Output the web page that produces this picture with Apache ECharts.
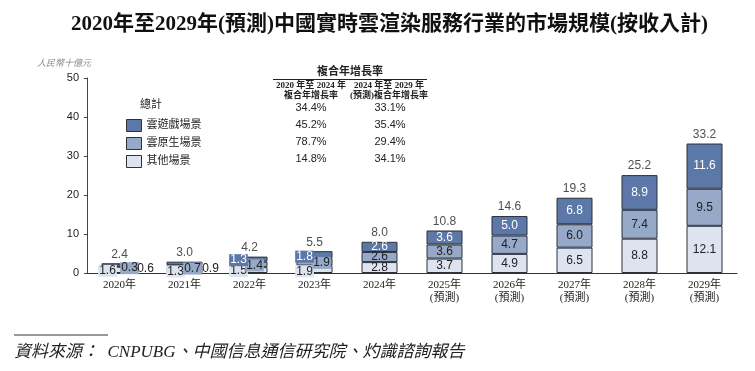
<!DOCTYPE html>
<html><head><meta charset="utf-8">
<script src="https://cdn.jsdelivr.net/npm/echarts@6/dist/echarts.min.js"></script>
<style>html,body{margin:0;padding:0;background:#fff}#c{width:755px;height:371px}</style>
</head><body><div id="c"></div>
<script>
const categories = ['2020年','2021年','2022年','2023年','2024年','2025年\n(預測)','2026年\n(預測)','2027年\n(預測)','2028年\n(預測)','2029年\n(預測)'];
const otherScene = [1.6,1.3,1.5,1.9,2.8,3.7,4.9,6.5,8.8,12.1];
const nativeScene = [0.3,0.7,1.4,1.9,2.6,3.6,4.7,6.0,7.4,9.5];
const gameScene = [0.6,0.9,1.3,1.8,2.6,3.6,5.0,6.8,8.9,11.6];
const totals = [2.4,3.0,4.2,5.5,8.0,10.8,14.6,19.3,25.2,33.2];
const seriesNames = ['雲遊戲場景','雲原生場景','其他場景'];
const cagrHeader = ['2020 年至 2024 年\n複合年增長率','2024 年至 2029 年\n(預測)複合年增長率'];
const cagr2020_2024 = ['34.4%','45.2%','78.7%','14.8%'];
const cagr2024_2029 = ['33.1%','35.4%','29.4%','34.1%'];

const C_GAME = '#5b78a9', C_NATIVE = '#97a9c8', C_OTHER = '#dee4ef', C_BORDER = '#2c313b';
const NUM_FONT = '"Liberation Sans", Arial, sans-serif';
const SERIF = '"Liberation Serif", "Noto Sans CJK TC", serif';

// label placement tweaks for the thin early bars (index -> [dx, dy, boxed])
const smallLabelLayout = {
  other:  {0:[-12,1,true],1:[-9,1,true],2:[-11,1,true],3:[-10,2,true]},
  native: {0:[10,2,true],1:[8,2,true],2:[5,1,true],3:[7,1,true]},
  game:   {0:[26,4,false],1:[26,5,false],2:[-11,1,true],3:[-10,2,true]}
};

function build(values, key, color, textColor) {
  return values.map((v, i) => {
    const lay = smallLabelLayout[key][i];
    if (!lay) return v;
    return {
      value: v,
      label: {
        position: 'inside',
        offset: [lay[0], lay[1]],
        backgroundColor: lay[2] ? color : 'transparent',
        padding: lay[2] ? [0, 1] : 0,
        color: lay[2] ? textColor : '#222'
      }
    };
  });
}

function barSeries(name, values, key, color, textColor) {
  return {
    name: name, type: 'bar', stack: 'total', barWidth: 36,
    itemStyle: { color: color, borderColor: C_BORDER, borderWidth: 1 },
    label: { show: true, position: 'inside', color: textColor, fontFamily: NUM_FONT, fontSize: 12,
             formatter: p => Number(p.value).toFixed(1) },
    data: build(values, key, color, textColor),
    z: 2
  };
}

const chart = echarts.init(document.getElementById('c'));
const tableRows = cagr2020_2024.length;
const graphics = [
  { type: 'text', left: 37, top: 59, style: { text: '人民幣十億元', font: 'italic 9px ' + SERIF, fill: '#888' } },
  { type: 'text', left: 140, top: 100, style: { text: '總計', font: '11px ' + SERIF, fill: '#222' } },
  { type: 'text', x: 350, y: 72, style: { text: '複合年增長率', font: 'bold 11px ' + SERIF, fill: '#222', align: 'center', verticalAlign: 'middle' } },
  { type: 'line', shape: { x1: 273, y1: 79.5, x2: 427, y2: 79.5 }, style: { stroke: '#222', lineWidth: 1 } },
  { type: 'text', x: 311, y: 91, style: { text: cagrHeader[0], font: 'bold 9px ' + SERIF, fill: '#222', align: 'center', verticalAlign: 'middle', lineHeight: 10 } },
  { type: 'text', x: 389, y: 91, style: { text: cagrHeader[1], font: 'bold 9px ' + SERIF, fill: '#222', align: 'center', verticalAlign: 'middle', lineHeight: 10 } },
  { type: 'line', shape: { x1: 14, y1: 335, x2: 108, y2: 335 }, style: { stroke: '#333', lineWidth: 1 } },
  { type: 'text', left: 14, top: 344, style: { text: '資料來源：  CNPUBG、中國信息通信研究院、灼識諮詢報告', font: 'italic 17px ' + SERIF, fill: '#222' } }
];
for (let r = 0; r < tableRows; r++) {
  const y = 108 + r * 17;
  graphics.push({ type: 'text', x: 311, y: y, style: { text: cagr2020_2024[r], font: '11px ' + NUM_FONT, fill: '#222', align: 'center', verticalAlign: 'middle' } });
  graphics.push({ type: 'text', x: 390, y: y, style: { text: cagr2024_2029[r], font: '11px ' + NUM_FONT, fill: '#222', align: 'center', verticalAlign: 'middle' } });
}

chart.setOption({
  animation: false,
  title: {
    text: '2020年至2029年(預測)中國實時雲渲染服務行業的市場規模(按收入計)',
    left: 66, top: 9,
    textStyle: { fontFamily: SERIF, fontWeight: 'bold', fontSize: 21, color: '#111' }
  },
  legend: {
    orient: 'vertical', left: 121, top: 114, itemWidth: 15, itemHeight: 12, itemGap: 5,
    icon: 'rect',
    data: seriesNames,
    textStyle: { fontFamily: SERIF, fontSize: 11, color: '#222' },
    itemStyle: { borderColor: C_BORDER, borderWidth: 1 }
  },
  grid: { left: 87, right: 18, top: 78, bottom: 98, containLabel: false },
  xAxis: {
    type: 'category', data: categories,
    axisLine: { lineStyle: { color: '#333', width: 1 } },
    axisTick: { show: false },
    axisLabel: { fontFamily: SERIF, fontSize: 11, color: '#222', lineHeight: 13, margin: 6, interval: 0 }
  },
  yAxis: {
    type: 'value', min: 0, max: 50, interval: 10,
    axisLine: { show: true, lineStyle: { color: '#444' } },
    axisTick: { show: true, length: 3, lineStyle: { color: '#444' } },
    splitLine: { show: false },
    axisLabel: { fontFamily: NUM_FONT, fontSize: 11, color: '#222', margin: 8 }
  },
  graphic: graphics,
  series: [
    barSeries(seriesNames[2], otherScene, 'other', C_OTHER, '#222'),
    barSeries(seriesNames[1], nativeScene, 'native', C_NATIVE, '#222'),
    barSeries(seriesNames[0], gameScene, 'game', C_GAME, '#fff'),
    {
      name: 'total', type: 'scatter', symbolSize: 0, data: totals,
      label: { show: true, position: 'top', distance: 3, color: '#222', fontFamily: NUM_FONT, fontSize: 12, formatter: p => p.value.toFixed(1) },
      silent: true, z: 3
    }
  ]
});
</script>
</body></html>
